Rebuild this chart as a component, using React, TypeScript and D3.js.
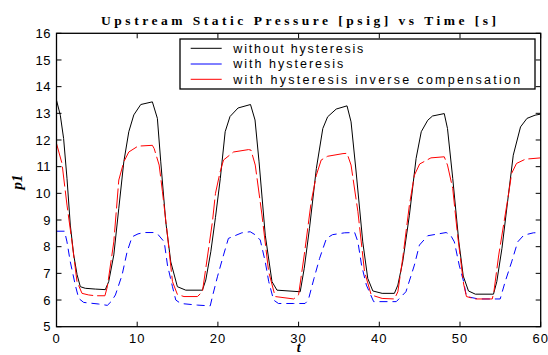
import React from "react";
import * as d3 from "d3";

const xTicks = [0, 10, 20, 30, 40, 50, 60];
const yTicks = [5, 6, 7, 8, 9, 10, 11, 12, 13, 14, 15, 16];

const seriesNames = [
  "without hysteresis",
  "with hysteresis",
  "with hysteresis inverse compensation",
];

// without hysteresis (black, solid)
const noHysteresis: [number, number][] = [
  [0, 13.49], [0.47, 12.93], [0.88, 12.06], [1.3, 10.56], [1.71, 8.81], [2.13, 7.69], [2.55, 6.95],
  [2.95, 6.5], [3.57, 6.44], [4.81, 6.41], [6.05, 6.39], [6.47, 6.69], [7.1, 7.69], [7.72, 9.44],
  [8.34, 11.18], [8.96, 12.31], [9.58, 12.94], [10.44, 13.33], [11.88, 13.43], [12.5, 12.81],
  [12.92, 11.18], [13.54, 8.93], [14.16, 7.43], [14.98, 6.5], [16.02, 6.37], [18.08, 6.37],
  [18.5, 6.75], [19.12, 7.81], [19.7, 9.1], [20.3, 10.56], [20.9, 12.31], [21.5, 12.88], [22.5, 13.2],
  [24.04, 13.33], [24.6, 12.75], [25.1, 11.18], [25.87, 8.43], [26.7, 6.69], [27.32, 6.37],
  [30.2, 6.31], [30.7, 7.19], [31.35, 8.69], [32.2, 10.93], [33.0, 12.43], [33.6, 12.87],
  [34.66, 13.16], [36.0, 13.28], [36.5, 12.68], [37.13, 10.8], [37.95, 8.18], [38.57, 6.81],
  [39.2, 6.34], [40.35, 6.25], [41.87, 6.25], [42.3, 6.56], [42.9, 7.43], [43.73, 9.18],
  [44.56, 11.31], [45.2, 12.31], [46.0, 12.74], [46.6, 12.9], [48.05, 12.99], [48.45, 12.43],
  [49.1, 10.56], [49.85, 8.2], [50.4, 6.9], [51.05, 6.34], [51.9, 6.22], [54.15, 6.22],
  [54.56, 6.69], [55.2, 7.94], [56.0, 9.94], [56.6, 11.43], [57.5, 12.49], [58.3, 12.81],
  [59.3, 12.93], [60, 12.97],
];

// with hysteresis (blue, dashed)
const withHysteresis: [number, number][] = [
  [0, 8.58], [1.0, 8.58], [1.3, 8.18], [1.71, 7.43], [2.33, 6.56], [2.75, 6.06], [3.37, 5.91],
  [5.23, 5.85], [6.3, 5.8], [6.8, 5.95], [7.3, 6.19], [8.13, 6.94], [8.75, 7.81], [9.37, 8.37],
  [10.1, 8.48], [10.85, 8.53], [12.0, 8.53], [12.6, 8.45], [13.35, 8.18], [13.75, 7.31],
  [14.37, 6.5], [14.78, 6.0], [15.4, 5.87], [17.46, 5.81], [19.05, 5.78], [19.32, 6.13],
  [19.94, 6.87], [20.7, 7.69], [21.3, 8.31], [22.97, 8.52], [24.0, 8.56], [24.6, 8.45],
  [25.25, 8.25], [25.87, 7.43], [26.3, 6.69], [26.9, 6.0], [27.5, 5.87], [29.4, 5.87],
  [30.8, 5.87], [31.2, 6.0], [31.9, 6.8], [32.6, 7.56], [33.45, 8.31], [34.2, 8.45],
  [35.7, 8.52], [36.95, 8.53], [37.35, 8.18], [37.8, 7.31], [38.4, 6.56], [39.3, 5.94],
  [41.3, 5.94], [42.1, 5.94], [43.3, 6.31], [44.35, 7.31], [44.97, 8.06], [46.0, 8.41],
  [48.28, 8.53], [48.8, 8.45], [49.3, 8.18], [49.9, 7.31], [50.45, 6.69], [50.8, 6.13],
  [52.3, 6.04], [54.98, 6.04], [55.6, 6.69], [56.4, 7.43], [57.15, 8.18], [57.9, 8.43],
  [59.1, 8.52], [60, 8.53],
];

// with hysteresis inverse compensation (red, dashed)
const inverseCompensation: [number, number][] = [
  [0, 11.87], [0.68, 11.12], [1.3, 9.56], [1.92, 8.18], [2.54, 6.69], [3.16, 6.25], [3.99, 6.19],
  [4.81, 6.16], [6.0, 6.16], [6.3, 6.5], [7.1, 8.18], [7.72, 10.5], [8.34, 11.18], [8.96, 11.55],
  [10.1, 11.77], [11.88, 11.8], [12.1, 11.68], [12.72, 11.06], [13.13, 10.06], [13.75, 8.43],
  [14.37, 6.69], [14.98, 6.21], [15.8, 6.13], [17.46, 6.13], [18.08, 6.31], [18.5, 7.19],
  [19.32, 8.93], [19.7, 10.0], [20.27, 10.8], [20.7, 11.25], [21.94, 11.55], [23.8, 11.64],
  [24.1, 11.62], [24.63, 11.06], [25.46, 9.19], [26.29, 7.06], [27.1, 6.13], [29.4, 6.04],
  [30.0, 6.2], [30.7, 7.69], [31.56, 9.68], [32.2, 10.68], [32.8, 11.25], [33.6, 11.39],
  [35.5, 11.49], [36.0, 11.5], [36.5, 11.06], [37.35, 9.31], [38.17, 7.06], [39.0, 6.19],
  [40.35, 6.06], [41.87, 6.04], [42.3, 6.31], [42.9, 7.56], [43.73, 9.56], [44.35, 10.68],
  [45.0, 11.1], [46.4, 11.33], [48.05, 11.37], [48.45, 11.06], [49.1, 10.18], [49.7, 8.43],
  [50.45, 6.6], [50.8, 6.13], [51.9, 6.04], [54.0, 6.04], [54.2, 6.31], [54.8, 7.69],
  [56.0, 9.94], [56.4, 10.75], [57.0, 11.12], [58.1, 11.28], [60, 11.33],
];

export default function App() {
  const W = 548;
  const H = 355;
  const left = 56.5, right = 540.7, top = 33.3, bottom = 326.7;
  const x = d3.scaleLinear().domain([0, 60]).range([left, right]);
  const y = d3.scaleLinear().domain([5, 16]).range([bottom, top]);
  const line = d3
    .line<[number, number]>()
    .x((d) => x(d[0]))
    .y((d) => y(d[1]));

  const sans = "'Liberation Sans', Arial, Helvetica, sans-serif";
  const serif = "'Liberation Serif', 'Times New Roman', serif";
  const tickLen = 5;

  const series = [
    { data: noHysteresis, color: "#000000", dash: undefined as string | undefined },
    { data: withHysteresis, color: "#0000ff", dash: "8,5" },
    { data: inverseCompensation, color: "#ff0000", dash: "20,4" },
  ];

  const legendLeft = 180, legendTop = 39, legendRight = 535, legendBottom = 89;
  const legendRows = [48.3, 64, 79.3];
  const legendWidths = [130, 110, 287];

  return (
    <div style={{ position: "fixed", left: 0, top: 0 }}>
      <svg width={W} height={H} style={{ display: "block", background: "#fff" }}>
        <defs>
          <clipPath id="plotClip">
            <rect x={left} y={top} width={right - left} height={bottom - top} />
          </clipPath>
        </defs>
        <rect x={0} y={0} width={W} height={H} fill="#fff" />
        <text
          x={(left + right) / 2}
          y={24.5}
          textAnchor="middle"
          fontFamily={serif}
          fontWeight="bold"
          fontSize={13.5}
          textLength={395}
          lengthAdjust="spacing"
        >
          Upstream Static Pressure [psig] vs Time [s]
        </text>

        <g clipPath="url(#plotClip)">
          {series.map((s, i) => (
            <path
              key={i}
              d={line(s.data) || ""}
              fill="none"
              stroke={s.color}
              strokeWidth={1}
              strokeDasharray={s.dash}
              strokeLinejoin="round"
            />
          ))}
        </g>

        {xTicks.map((t) => (
          <g key={"xt" + t}>
            <line x1={x(t)} x2={x(t)} y1={bottom} y2={bottom - tickLen} stroke="#000" strokeWidth={1} />
            <line x1={x(t)} x2={x(t)} y1={top} y2={top + tickLen} stroke="#000" strokeWidth={1} />
            <text
              x={x(t)}
              y={342.5}
              textAnchor="middle"
              fontFamily={sans}
              fontSize={13}
              letterSpacing={1}
            >
              {t}
            </text>
          </g>
        ))}
        {yTicks.map((t) => (
          <g key={"yt" + t}>
            <line x1={left} x2={left + tickLen} y1={y(t)} y2={y(t)} stroke="#000" strokeWidth={1} />
            <line x1={right} x2={right - tickLen} y1={y(t)} y2={y(t)} stroke="#000" strokeWidth={1} />
            <text
              x={51}
              y={y(t) + 4.7}
              textAnchor="end"
              fontFamily={sans}
              fontSize={13}
              letterSpacing={0.5}
            >
              {t}
            </text>
          </g>
        ))}

        <rect
          x={left}
          y={top}
          width={right - left}
          height={bottom - top}
          fill="none"
          stroke="#000"
          strokeWidth={1.3}
        />

        <rect
          x={legendLeft}
          y={legendTop}
          width={legendRight - legendLeft}
          height={legendBottom - legendTop}
          fill="#fff"
          stroke="#000"
          strokeWidth={1.3}
        />
        {seriesNames.map((name, i) => (
          <g key={name}>
            <line
              x1={190.7}
              x2={221.7}
              y1={legendRows[i]}
              y2={legendRows[i]}
              stroke={series[i].color}
              strokeWidth={1}
            />
            <text
              x={233.3}
              y={legendRows[i] + 4.3}
              fontFamily={sans}
              fontSize={12.5}
              textLength={legendWidths[i]}
              lengthAdjust="spacing"
            >
              {name}
            </text>
          </g>
        ))}

        <text
          x={(left + right) / 2}
          y={352}
          textAnchor="middle"
          fontFamily={serif}
          fontStyle="italic"
          fontWeight="bold"
          fontSize={14}
        >
          t
        </text>
        <text
          transform={`translate(22, ${182}) rotate(-90)`}
          textAnchor="middle"
          fontFamily={serif}
          fontStyle="italic"
          fontWeight="bold"
          fontSize={15}
        >
          p1
        </text>
      </svg>
    </div>
  );
}
